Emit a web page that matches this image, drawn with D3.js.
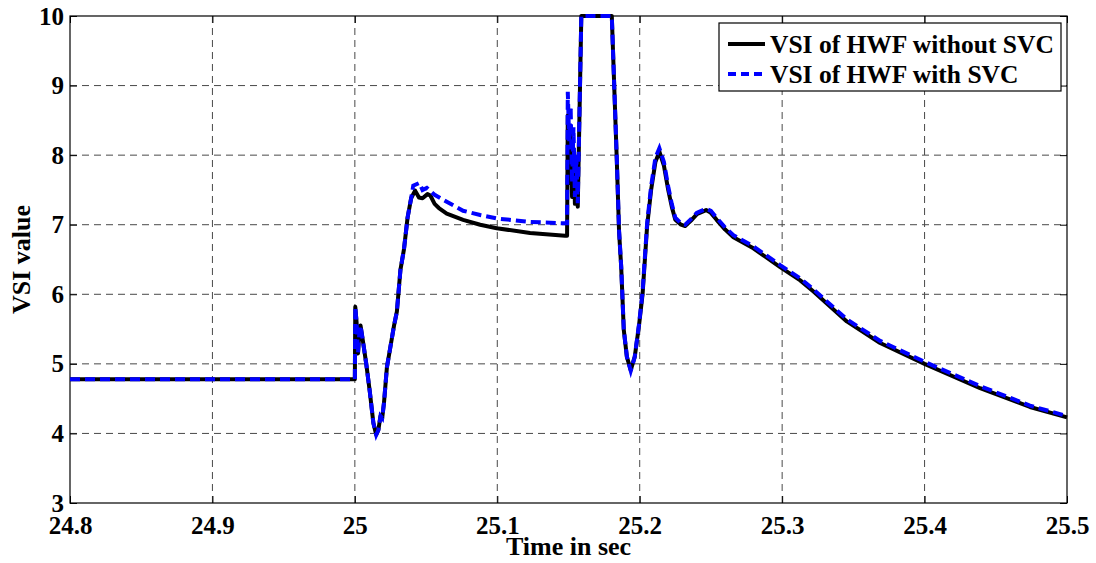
<!DOCTYPE html>
<html>
<head>
<meta charset="utf-8">
<script src="https://cdn.jsdelivr.net/npm/d3@7"></script>
<style>
  body { margin: 0; background: #fff; }
  svg { display: block; }
  svg text { font-family: "Liberation Serif", "Times New Roman", serif; font-weight: bold; }
</style>
</head>
<body>
<div id="chart"></div>
<script>
// ── Data ──────────────────────────────────────────────────────────────────────

const xTicks = [24.8, 24.9, 25.0, 25.1, 25.2, 25.3, 25.4, 25.5];
const yTicks = [3, 4, 5, 6, 7, 8, 9, 10];

const seriesNames = ["VSI of HWF without SVC", "VSI of HWF with SVC"];

// common part before the SVC makes a difference
const timeStart = [24.8, 25.0, 25.0003, 25.0012, 25.0022, 25.003, 25.004, 25.0055, 25.008, 25.0105,
  25.013, 25.015, 25.0165, 25.018, 25.0192, 25.0205, 25.0225, 25.025, 25.0275, 25.0295,
  25.032, 25.0345, 25.037, 25.0395];
const vsiStart = [4.78, 4.78, 5.82, 5.6, 5.15, 5.4, 5.55, 5.35, 5.0, 4.6,
  4.15, 3.98, 4.05, 4.25, 4.22, 4.45, 4.95, 5.25, 5.55, 5.75,
  6.35, 6.65, 7.1, 7.38];

// without SVC: plateau and spike at fault clearing
const timeNoSvcMid = [25.0423, 25.045, 25.0475, 25.051, 25.053, 25.056, 25.059, 25.0645, 25.076, 25.088,
  25.0996, 25.123, 25.1476, 25.149, 25.1495, 25.1505, 25.1515, 25.1525, 25.1535, 25.1545,
  25.1555, 25.1565, 25.159];
const vsiNoSvcMid = [7.49, 7.39, 7.38, 7.44, 7.42, 7.3, 7.24, 7.16, 7.07, 7.0,
  6.95, 6.88, 6.84, 6.84, 8.57, 7.6, 8.4, 7.4, 8.1, 7.3,
  7.8, 7.26, 10];

// with SVC: plateau sits higher
const timeSvcMid = [25.041, 25.0453, 25.0475, 25.0505, 25.056, 25.0645, 25.076, 25.088, 25.0996, 25.123,
  25.1476, 25.149, 25.1495, 25.1505, 25.1515, 25.1525, 25.1535, 25.1545, 25.1555, 25.1565,
  25.159];
const vsiSvcMid = [7.56, 7.6, 7.5, 7.53, 7.43, 7.33, 7.2, 7.14, 7.09, 7.04,
  7.02, 7.02, 8.91, 8.2, 8.7, 7.6, 8.4, 7.4, 8.0, 7.31,
  10];

// recovery after the clip at 10
const timeEnd = [25.1804, 25.1839, 25.1855, 25.187, 25.1888, 25.191, 25.1937, 25.1965, 25.1995, 25.202,
  25.2052, 25.208, 25.211, 25.2138, 25.217, 25.22, 25.2225, 25.225, 25.229, 25.2319,
  25.236, 25.24, 25.2466, 25.25, 25.254, 25.26, 25.2658, 25.2798, 25.2986, 25.3127,
  25.322, 25.3454, 25.3688, 25.4, 25.439, 25.474, 25.5];
const vsiNoSvcEnd = [10, 7.93, 6.9, 6.39, 5.49, 5.1, 4.91, 5.1, 5.55, 6.0,
  6.98, 7.5, 7.9, 8.05, 7.85, 7.5, 7.26, 7.07, 7.0, 6.98,
  7.06, 7.15, 7.21, 7.17, 7.07, 6.93, 6.82, 6.66, 6.39, 6.2,
  6.04, 5.61, 5.3, 5.0, 4.65, 4.38, 4.23];
const vsiSvcEnd = [10, 7.95, 6.92, 6.4, 5.5, 5.1, 4.9, 5.1, 5.57, 6.03,
  7.02, 7.55, 7.96, 8.1, 7.9, 7.55, 7.3, 7.1, 7.02, 7.0,
  7.08, 7.17, 7.23, 7.2, 7.1, 6.96, 6.85, 6.69, 6.42, 6.23,
  6.07, 5.64, 5.33, 5.03, 4.68, 4.4, 4.25];

// ── Chart ─────────────────────────────────────────────────────────────────────

const W = 1096, H = 563;
const margin = { top: 16, right: 29, bottom: 60, left: 70 };
const FONT = "'Liberation Serif', 'Times New Roman', serif";

const svg = d3.select("#chart").append("svg").attr("width", W).attr("height", H);

const x = d3.scaleLinear().domain([24.8, 25.5]).range([margin.left, W - margin.right]);
const y = d3.scaleLinear().domain([3, 10]).range([H - margin.bottom, margin.top]);

const zip = (ts, vs) => ts.map((t, i) => ({ t, v: vs[i] }));
const noSvc = zip(timeStart, vsiStart).concat(zip(timeNoSvcMid, vsiNoSvcMid), zip(timeEnd, vsiNoSvcEnd));
const withSvc = zip(timeStart, vsiStart).concat(zip(timeSvcMid, vsiSvcMid), zip(timeEnd, vsiSvcEnd));

const x0 = x.range()[0], x1 = x.range()[1];
const y0 = y.range()[1], y1 = y.range()[0];

// grid
const grid = svg.append("g").attr("stroke", "#2a2a2a").attr("stroke-width", 1)
  .attr("stroke-dasharray", "7,5").attr("opacity", 0.85);
xTicks.slice(1, -1).forEach((d) => {
  grid.append("line").attr("x1", x(d)).attr("x2", x(d)).attr("y1", y0).attr("y2", y1);
});
yTicks.slice(1, -1).forEach((d) => {
  grid.append("line").attr("x1", x0).attr("x2", x1).attr("y1", y(d)).attr("y2", y(d));
});

// axes (matlab style: ticks inside, on all four sides)
const fmt = (d) => String(+d.toFixed(1));
const styleAxis = (g) => {
  g.select(".domain").remove();
  g.selectAll("text").style("font-family", FONT).style("font-size", "25px")
    .style("font-weight", "bold").attr("fill", "#000");
  g.selectAll("line").attr("stroke", "#000");
};

svg.append("g").attr("transform", `translate(0,${y1})`)
  .call(d3.axisBottom(x).tickValues(xTicks).tickFormat(fmt).tickSizeInner(-7).tickPadding(13))
  .call(styleAxis);
svg.append("g").attr("transform", `translate(0,${y0})`)
  .call(d3.axisTop(x).tickValues(xTicks).tickFormat("").tickSizeInner(-7))
  .call(styleAxis);
svg.append("g").attr("transform", `translate(${x0},0)`)
  .call(d3.axisLeft(y).tickValues(yTicks).tickFormat(d3.format("d")).tickSizeInner(-7).tickPadding(6))
  .call(styleAxis);
svg.append("g").attr("transform", `translate(${x1},0)`)
  .call(d3.axisRight(y).tickValues(yTicks).tickFormat("").tickSizeInner(-7))
  .call(styleAxis);

svg.append("rect").attr("x", x0).attr("y", y0).attr("width", x1 - x0).attr("height", y1 - y0)
  .attr("fill", "none").attr("stroke", "#000").attr("stroke-width", 1.2);

// lines
const line = d3.line().x((d) => x(d.t)).y((d) => y(d.v));
svg.append("path").datum(noSvc).attr("d", line).attr("fill", "none")
  .attr("stroke", "#000").attr("stroke-width", 4).attr("stroke-linejoin", "round");
svg.append("path").datum(withSvc).attr("d", line).attr("fill", "none")
  .attr("stroke", "#0000ff").attr("stroke-width", 4).attr("stroke-dasharray", "10,5");

// axis labels
svg.append("text").attr("x", (x0 + x1) / 2).attr("y", 555).attr("text-anchor", "middle")
  .attr("font-size", "26px")
  .text("Time in sec");
svg.append("text").attr("transform", `translate(30,${(y0 + y1) / 2}) rotate(-90)`)
  .attr("text-anchor", "middle")
  .attr("font-size", "26px")
  .text("VSI value");

// legend
const lg = svg.append("g").attr("transform", "translate(719,23)");
lg.append("rect").attr("width", 342).attr("height", 68).attr("fill", "#fff")
  .attr("stroke", "#000").attr("stroke-width", 1.2);
const legendStyles = [{ stroke: "#000", dash: null }, { stroke: "#0000ff", dash: "8,5" }];
seriesNames.forEach((name, i) => {
  const yy = 21 + i * 30;
  lg.append("line").attr("x1", 9).attr("x2", 46).attr("y1", yy).attr("y2", yy)
    .attr("stroke", legendStyles[i].stroke).attr("stroke-width", 4)
    .attr("stroke-dasharray", legendStyles[i].dash);
  lg.append("text").attr("x", 51).attr("y", yy).attr("dy", "0.35em")
    .attr("font-size", "25.5px")
    .text(name);
});
</script>
</body>
</html>
